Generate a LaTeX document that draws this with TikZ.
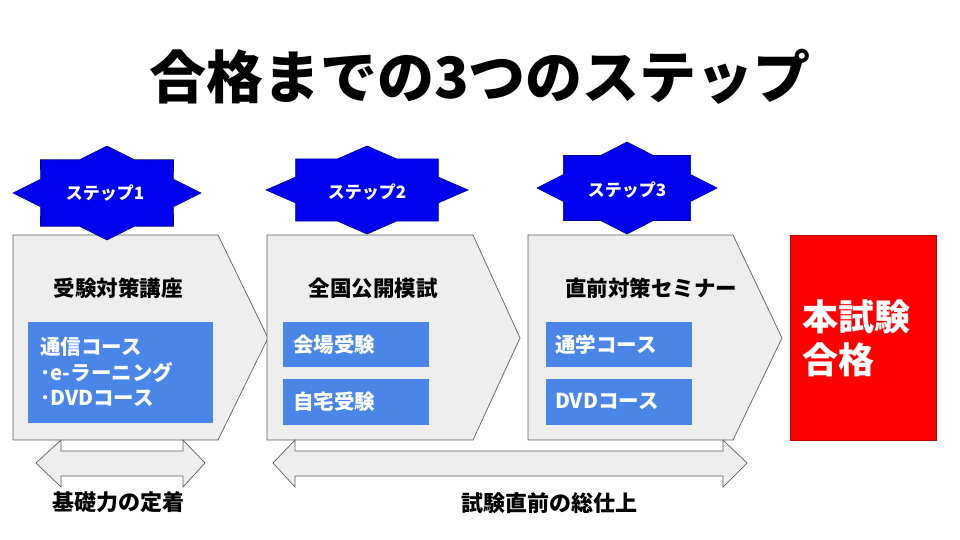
\documentclass[tikz,border=0pt]{standalone}
\usepackage{fontspec}
\setmainfont{Noto Sans CJK JP}
\definecolor{chevgray}{HTML}{EEEEEE}
\definecolor{edgegray}{HTML}{5F5F5F}
\definecolor{boxblue}{HTML}{4A86E8}
\definecolor{starblue}{HTML}{0000F0}
\definecolor{stardark}{HTML}{00008B}
\definecolor{passred}{HTML}{FF0000}
\definecolor{passedge}{HTML}{C00000}
\newcommand\mystar[4]{% cx, cy, rx, ry : 8-point star
  \fill[starblue, draw=stardark, line width=0.6pt, line join=miter]
    ({#1+#3},{#2})
    \foreach \k in {1,...,15}{
      -- ({#1+ifthenelse(mod(\k,2)==0,1,0.765)*#3*cos(\k*22.5)},
          {#2+ifthenelse(mod(\k,2)==0,1,0.765)*#4*sin(\k*22.5)})
    } -- cycle;
}
\tikzset{
  chev/.style={draw=edgegray, fill=chevgray, line width=0.7pt, line join=miter},
  bluebox/.style={fill=boxblue, draw=none, inner sep=0pt, anchor=north west},
  steptxt/.style={text=white, font=\bfseries\fontsize{17}{20}\selectfont, inner sep=0pt},
  headtxt/.style={text=black, font=\bfseries\fontsize{21.5}{25}\selectfont, inner sep=0pt},
  boxtxt/.style={text=white, font=\bfseries\fontsize{20.5}{25.5}\selectfont, inner sep=0pt, anchor=west, align=left},
  bottxt/.style={text=black, font=\bfseries\fontsize{22}{25}\selectfont, inner sep=0pt},
  dblarrow/.style={draw=edgegray, fill=chevgray, line width=0.7pt, line join=miter}
}
\begin{document}
\begin{tikzpicture}[x=1pt,y=-1pt]
\useasboundingbox (0,0) rectangle (960,540);
\fill[white] (0,0) rectangle (960,540);

% title
\node[font=\bfseries\fontsize{57}{60}\selectfont, inner sep=0pt] (title) at (480,77) {合格までの3つのステップ};

% chevrons
\draw[chev] (13,235) -- (218,235) -- (268,338) -- (218,440) -- (13,440) -- cycle;
\draw[chev] (267,235) -- (473,235) -- (520,338) -- (473,440) -- (267,440) -- cycle;
\draw[chev] (528,235) -- (733,235) -- (782,338) -- (733,440) -- (528,440) -- cycle;

% pass box
\node[fill=passred, draw=passedge, line width=0.7pt, anchor=north west, minimum width=146pt, minimum height=205pt, inner sep=0pt] (pass) at (790,235) {};
\node[text=white, font=\bfseries\fontsize{36}{43}\selectfont, inner sep=0pt, anchor=west, align=left] (passtxt) at (802,338) {本試験\\合格};

% stars
\mystar{107}{193}{94}{47}
\mystar{367}{190}{101}{44}
\mystar{627}{188}{90}{46}
\node[steptxt] (s1) at (105,193) {ステップ1};
\node[steptxt] (s2) at (367,192) {ステップ2};
\node[steptxt] (s3) at (627,190) {ステップ3};

% headings
\node[headtxt] (h1) at (118,288) {受験対策講座};
\node[headtxt] (h2) at (373,288) {全国公開模試};
\node[headtxt] (h3) at (651,288) {直前対策セミナー};

% blue boxes
\node[bluebox, minimum width=185pt, minimum height=101pt] (b1) at (28,322) {};
\node[boxtxt] (t1) at (40,372) {通信コース\\･e-ラーニング\\･DVDコース};
\node[bluebox, minimum width=146pt, minimum height=45pt] (b2a) at (283,322) {};
\node[boxtxt] (t2a) at (293,345) {会場受験};
\node[bluebox, minimum width=146pt, minimum height=46pt] (b2b) at (283,379) {};
\node[boxtxt] (t2b) at (293,402) {自宅受験};
\node[bluebox, minimum width=146pt, minimum height=45pt] (b3a) at (546,322) {};
\node[boxtxt] (t3a) at (555,345) {通学コース};
\node[bluebox, minimum width=146pt, minimum height=46pt] (b3b) at (546,379) {};
\node[boxtxt] (t3b) at (555,401) {DVDコース};

% double arrows
\draw[dblarrow] (36,463) -- (61,440) -- (61,451) -- (183,451) -- (183,440) -- (205,463)
  -- (183,487) -- (183,476) -- (61,476) -- (61,487) -- cycle;
\draw[dblarrow] (273,463) -- (295,440) -- (295,451) -- (723,451) -- (723,440) -- (747,463)
  -- (723,487) -- (723,476) -- (295,476) -- (295,487) -- cycle;

\node[bottxt] (l1) at (118,502) {基礎力の定着};
\node[bottxt] (l2) at (549,503) {試験直前の総仕上};
\end{tikzpicture}
\end{document}
